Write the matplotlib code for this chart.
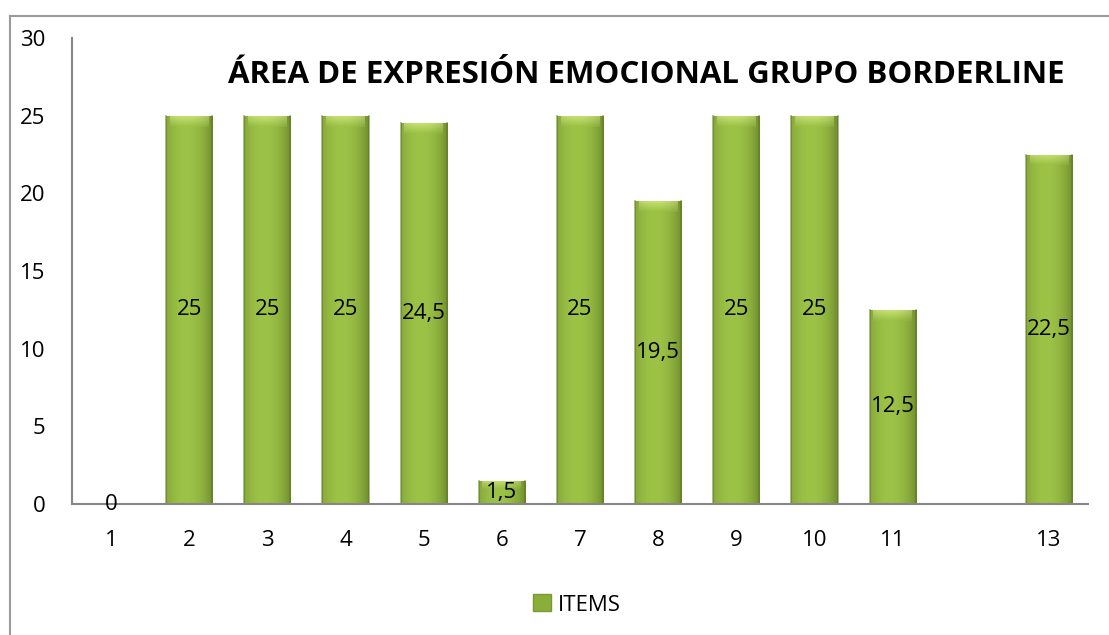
import numpy as np
import matplotlib
matplotlib.use("Agg")
import matplotlib.pyplot as plt
from matplotlib.lines import Line2D
from matplotlib.patches import Patch

categories = ["1", "2", "3", "4", "5", "6", "7", "8", "9", "10", "11", "", "13"]
values = [0, 25, 25, 25, 24.5, 1.5, 25, 19.5, 25, 25, 12.5, np.nan, 22.5]
value_labels = ["0", "25", "25", "25", "24,5", "1,5", "25", "19,5", "25", "25", "12,5", "", "22,5"]
series_name = "ITEMS"
title = "ÁREA DE EXPRESIÓN EMOCIONAL GRUPO BORDERLINE"

plt.rcParams['font.family'] = ['Open Sans', 'DejaVu Sans']

W, H = 1109, 635
fig = plt.figure(figsize=(W / 100, H / 100), dpi=100)
ax = fig.add_axes([72 / W, 1 - 504 / H, (1088 - 72) / W, (504 - 38) / H])

x = np.arange(len(categories))
vals = np.nan_to_num(np.array(values, dtype=float), nan=0.0)
bars = ax.bar(x, vals, width=0.59, color="none", edgecolor="none", zorder=2)

ax.set_xlim(-0.5, len(categories) - 0.5)
ax.set_ylim(0, 30)

# horizontal gradient (cylinder-like shading)
t = np.linspace(0, 1, 64)
shade = 1 - 0.9 * (np.abs(t - 0.42) / 0.58) ** 2.2
dark = np.array([0x6c, 0x88, 0x2c]) / 255
light = np.array([0x9c, 0xc2, 0x46]) / 255
grad = dark[None, :] + (light - dark)[None, :] * shade[:, None]
grad = grad[None, :, :]
cap_col = np.array([0xc4, 0xe0, 0x70]) / 255

for b, v in zip(bars, vals):
    if v <= 0:
        continue
    x0, w, h = b.get_x(), b.get_width(), b.get_height()
    im = ax.imshow(grad, extent=(x0, x0 + w, 0, h), aspect="auto",
                   interpolation="bilinear", zorder=2)
    im.set_clip_path(b)
    # lighter top cap
    cap = min(0.7, h * 0.35)
    cg = np.linspace(0, 1, 8)[:, None]
    cimg = (cap_col[None, :] * (1 - cg) + light[None, :] * cg)[:, None, :] * np.ones((1, 64, 1))
    cimg = cimg * (0.85 + 0.15 * shade[None, :, None])
    im2 = ax.imshow(np.clip(cimg, 0, 1), extent=(x0 + w * 0.08, x0 + w * 0.92, h - cap, h),
                    aspect="auto", interpolation="bilinear", zorder=3)
    im2.set_clip_path(b)
    ax.plot([x0, x0], [0, h], color="#5f7a28", lw=1.2, alpha=0.6, zorder=3)
    ax.plot([x0 + w, x0 + w], [0, h], color="#5f7a28", lw=1.2, alpha=0.6, zorder=3)

ax.set_xlim(-0.5, len(categories) - 0.5)
ax.set_ylim(0, 30)

FS = 16
for xi, v, lab in zip(x, vals, value_labels):
    if lab == "":
        continue
    ax.text(xi, v / 2 if v > 0 else 0, lab, ha="center", va="center",
            fontsize=FS, color="black", zorder=5)

for s in ["top", "right"]:
    ax.spines[s].set_visible(False)
for s in ["left", "bottom"]:
    ax.spines[s].set_color("#868686")
    ax.spines[s].set_linewidth(1.5)
    ax.spines[s].set_zorder(4)

ax.set_xticks(x)
ax.set_xticklabels(categories, fontsize=FS)
ax.set_yticks([0, 5, 10, 15, 20, 25, 30])
ax.set_yticklabels(["0", "5", "10", "15", "20", "25", "30"], fontsize=FS)
ax.tick_params(axis="both", length=0)
ax.tick_params(axis="y", pad=19)
ax.tick_params(axis="x", pad=19)

fig.text(646 / W, 1 - 75 / H, title, ha="center", va="center",
         fontsize=22.5, fontweight="bold")

handle = Patch(facecolor="#8aae3a", edgecolor="#7a9a30")
fig.legend([handle], [series_name], loc="center", bbox_to_anchor=(577 / W, 1 - 605 / H),
           frameon=False, fontsize=FS, handlelength=0.8, handleheight=0.8, handletextpad=0.3)

# chart area border (top and left visible)
fig.add_artist(Line2D([10 / W, 1], [1 - 16 / H, 1 - 16 / H], transform=fig.transFigure,
                      color="#9a9a9a", lw=1.5))
fig.add_artist(Line2D([10 / W, 10 / W], [0, 1 - 16 / H], transform=fig.transFigure,
                      color="#9a9a9a", lw=1.5))

fig.savefig("out.png", dpi=100)
